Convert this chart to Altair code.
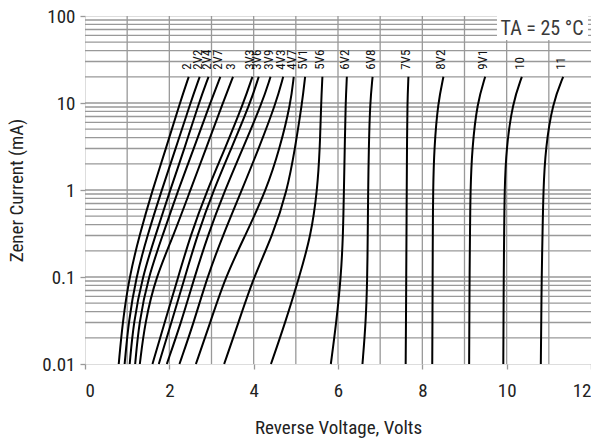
import altair as alt
import pandas as pd

FONT = "Liberation Sans Narrow, Roboto Condensed, Arial Narrow, Liberation Sans, sans-serif"

# Current levels (mA) at which each curve's voltage was read
currents = [0.01, 0.03, 0.1, 0.3, 1, 3, 10, 20]

labels = ["2", "2V2", "2V4", "2V7", "3", "3V3", "3V6", "3V9", "4V3", "4V7",
          "5V1", "5V6", "6V2", "6V8", "7V5", "8V2", "9V1", "10", "11"]

v_2   = [0.80, 0.89, 1.05, 1.29, 1.60, 1.92, 2.25, 2.46]
v_2v2 = [0.94, 1.03, 1.21, 1.48, 1.82, 2.15, 2.50, 2.72]
v_2v4 = [1.06, 1.15, 1.36, 1.67, 2.02, 2.36, 2.70, 2.93]
v_2v7 = [1.19, 1.28, 1.50, 1.84, 2.21, 2.58, 2.97, 3.21]
v_3   = [1.30, 1.42, 1.68, 2.10, 2.50, 2.87, 3.27, 3.51]
v_3v3 = [1.60, 1.89, 2.21, 2.50, 2.90, 3.32, 3.76, 3.97]
v_3v6 = [1.75, 2.05, 2.37, 2.66, 3.05, 3.47, 3.92, 4.12]
v_3v9 = [1.94, 2.28, 2.60, 2.91, 3.32, 3.74, 4.20, 4.40]
v_4v3 = [2.24, 2.58, 2.90, 3.27, 3.72, 4.12, 4.53, 4.70]
v_4v7 = [2.63, 2.97, 3.33, 3.80, 4.30, 4.62, 4.88, 4.95]
v_5v1 = [3.30, 3.64, 4.00, 4.45, 4.80, 4.98, 5.15, 5.22]
v_5v6 = [4.41, 4.75, 5.08, 5.36, 5.51, 5.57, 5.60, 5.63]
v_6v2 = [5.83, 5.96, 6.07, 6.12, 6.14, 6.16, 6.18, 6.21]
v_6v8 = [6.58, 6.66, 6.695, 6.705, 6.715, 6.73, 6.76, 6.82]
v_7v5 = [7.605, 7.612, 7.618, 7.624, 7.630, 7.636, 7.645, 7.67]
v_8v2 = [8.235, 8.240, 8.244, 8.248, 8.255, 8.28, 8.37, 8.50]
v_9v1 = [9.11, 9.115, 9.12, 9.13, 9.14, 9.18, 9.30, 9.49]
v_10  = [9.92, 9.925, 9.93, 9.94, 9.95, 9.99, 10.14, 10.36]
v_11  = [10.81, 10.82, 10.83, 10.85, 10.87, 10.92, 11.09, 11.34]

curves = [v_2, v_2v2, v_2v4, v_2v7, v_3, v_3v3, v_3v6, v_3v9, v_4v3, v_4v7,
          v_5v1, v_5v6, v_6v2, v_6v8, v_7v5, v_8v2, v_9v1, v_10, v_11]

x_ticks = [0, 2, 4, 6, 8, 10, 12]
y_ticks = [0.01, 0.1, 1, 10, 100]
x_grid = list(range(1, 12))
y_grid = [m * 10.0 ** e for e in range(-2, 2) for m in range(2, 10)] + [0.1, 1, 10]

note_text = "TA = 25 °C"

rows = []
for name, vs in zip(labels, curves):
    for i, v in zip(currents, vs):
        rows.append({"curve": name, "v": v, "i": i})
df = pd.DataFrame(rows)
df_lab = pd.DataFrame({"curve": labels, "v": [c[-1] for c in curves],
                       "i": [currents[-1]] * len(labels)})

GRID = "#999999"
INK = "#222222"

xs = alt.Scale(domain=[0, 12], nice=False, zero=False)
ys = alt.Scale(type="log", domain=[0.01, 100], nice=False)

X_AX = alt.Axis(values=x_ticks, grid=False, domain=False, tickColor=GRID, tickSize=5,
                tickWidth=1.3, labelPadding=12, labelFontSize=19, labelFont=FONT,
                labelColor=INK, title="Reverse Voltage, Volts", titleFont=FONT,
                titleFontSize=19, titleFontWeight="normal", titleColor=INK,
                titleX=253, titleY=63, titleBaseline="middle", titleAlign="center")
Y_AX = alt.Axis(values=y_ticks, format="~g", grid=False, domain=False, tickColor=GRID,
                tickSize=5, tickWidth=1.3, labelPadding=5, labelFontSize=19,
                labelFont=FONT, labelColor=INK, title="Zener Current (mA)",
                titleFont=FONT, titleFontSize=19, titleFontWeight="normal",
                titleColor=INK, titleX=-69, titleY=174, titleAngle=270,
                titleAlign="center", titleBaseline="middle")


def X(field):
    return alt.X(field, scale=xs, axis=X_AX, title="Reverse Voltage, Volts")


def Y(field):
    return alt.Y(field, scale=ys, axis=Y_AX, title="Zener Current (mA)")


vgrid = alt.Chart(pd.DataFrame({"v": x_grid})).mark_rule(
    color=GRID, strokeWidth=1.3).encode(x=X("v:Q"))
hgrid = alt.Chart(pd.DataFrame({"i": y_grid})).mark_rule(
    color=GRID, strokeWidth=1.3).encode(y=Y("i:Q"))

note_box = alt.Chart(pd.DataFrame({"x1": [9.77], "x2": [11.93], "y1": [53], "y2": [100]})).mark_rect(
    color="white").encode(x=X("x1:Q"), x2="x2:Q", y=Y("y1:Q"), y2="y2:Q")
note = alt.Chart(pd.DataFrame({"x": [10.84], "y": [71], "t": [note_text]})).mark_text(
    font=FONT, fontSize=20, color="#3a3a3a", align="center", baseline="middle").encode(
    x=X("x:Q"), y=Y("y:Q"), text="t:N")

lines = alt.Chart(df).mark_line(color="black", strokeWidth=2, interpolate="basis").encode(
    x=X("v:Q"), y=Y("i:Q"), detail="curve:N", order="i:Q")

lab = alt.Chart(df_lab).mark_text(font=FONT, fontSize=13, color="#111111", angle=270,
                                   align="left", baseline="middle", dx=7, dy=-2).encode(
    x=X("v:Q"), y=Y("i:Q"), text="curve:N")

chart = alt.layer(vgrid, hgrid, note_box, note, lines, lab).properties(
    width=506, height=348,
    autosize=alt.AutoSizeParams(type="none"),
    padding={"left": 77, "top": 8, "right": 0, "bottom": 76},
).configure_view(stroke=GRID, strokeWidth=1.5).configure(background="white")

chart.save("out.html", embed_options={"renderer": "svg", "actions": False})
